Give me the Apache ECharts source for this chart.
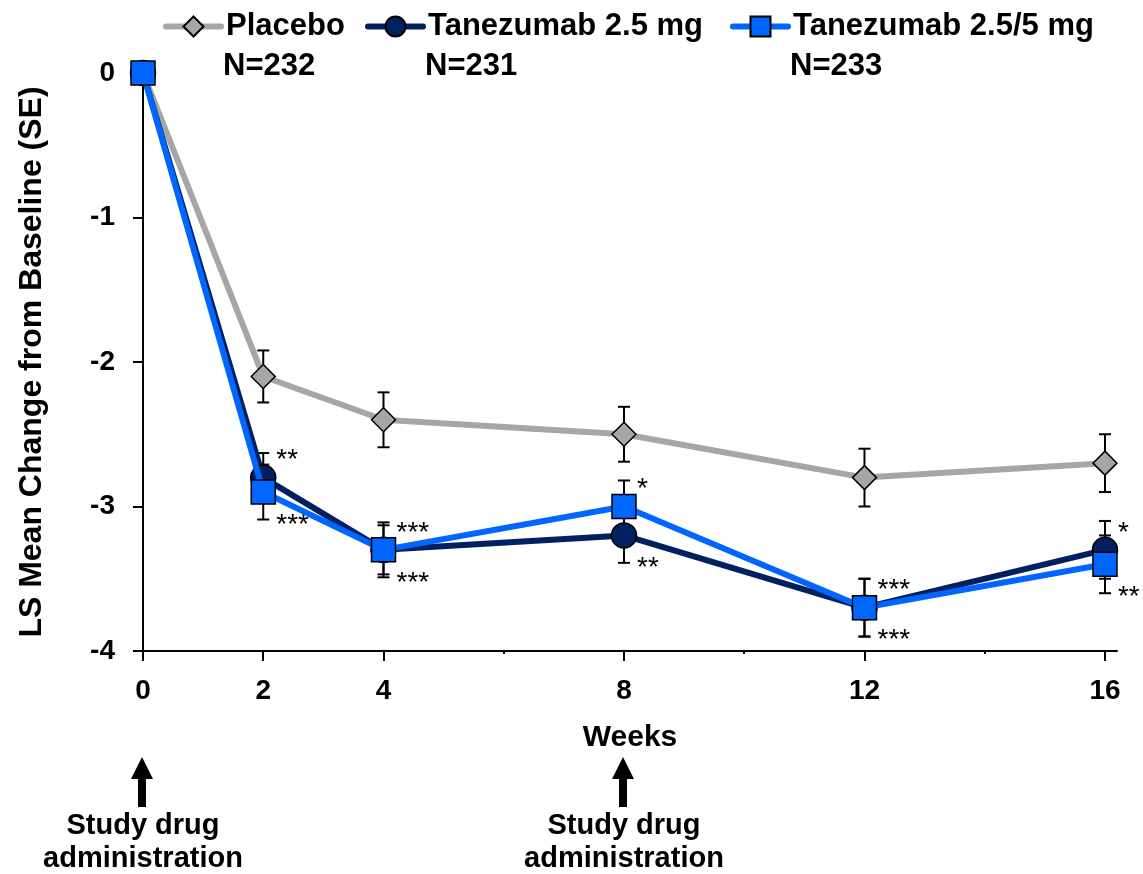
<!DOCTYPE html>
<html><head><meta charset="utf-8">
<script src="https://cdn.jsdelivr.net/npm/echarts@6/dist/echarts.min.js"></script>
<style>html,body{margin:0;padding:0;background:#fff}#c{width:1143px;height:874px}</style>
</head><body><div id="c"></div>
<script>
// ---------- data ----------
const weeks = [0, 2, 4, 8, 12, 16];
const tickWeeks = [0, 2, 4, 8, 12, 16];
const minorTickWeeks = [6, 10, 14];
const seriesNames = ['Placebo', 'Tanezumab 2.5 mg', 'Tanezumab 2.5/5 mg'];
const seriesN = ['N=232', 'N=231', 'N=233'];
const placebo   = [0, -2.1, -2.4, -2.5, -2.8, -2.7];
const placeboSE = [0, 0.18, 0.19, 0.19, 0.20, 0.20];
const tan25     = [0, -2.8, -3.3, -3.2, -3.7, -3.3];
const tan25SE   = [0, 0.17, 0.17, 0.19, 0.20, 0.20];
const tan255    = [0, -2.9, -3.3, -3.0, -3.7, -3.4];
const tan255SE  = [0, 0.19, 0.19, 0.18, 0.20, 0.20];
const sig25  = ['', '**', '***', '**', '***', '*'];
const sig255 = ['', '***', '***', '*', '***', '**'];
const doseWeeks = [0, 8];
const doseLabel = 'Study drug\nadministration';
const xName = 'Weeks';
const yName = 'LS Mean Change from Baseline (SE)';

// ---------- styling ----------
const FONT = '"Liberation Sans", Arial, Helvetica, sans-serif';
const colors = ['#A6A6A6', '#002060', '#0066FF'];
const symbols = ['diamond', 'circle', 'rect'];
const symbolSizes = [24, 25, 24];
const legendLefts = [163, 365, 730];
const LEG_W = 55, LEG_H = 25;
const GRID = { left: 143, right: 26, top: 73, bottom: 223 };

const above25 = tan25.map((v, i) => v >= tan255[i]);
const above255 = tan255.map((v, i) => v > tan25[i]);

function errRender(sigs, aboveFlags) {
  return function (params, api) {
    const i = params.dataIndex;
    const x = api.value(0), y = api.value(1), e = api.value(2);
    const c = api.coord([x, y]);
    const children = [];
    if (e > 0) {
      const t = api.coord([x, y + e]), b = api.coord([x, y - e]);
      const st = { stroke: '#000', lineWidth: 2 };
      children.push({ type: 'line', shape: { x1: c[0], y1: t[1], x2: c[0], y2: b[1] }, style: st });
      children.push({ type: 'line', shape: { x1: c[0] - 6, y1: t[1], x2: c[0] + 6, y2: t[1] }, style: st });
      children.push({ type: 'line', shape: { x1: c[0] - 6, y1: b[1], x2: c[0] + 6, y2: b[1] }, style: st });
    }
    const s = sigs ? sigs[i] : '';
    if (s) {
      const ab = aboveFlags[i];
      children.push({
        type: 'text', x: c[0] + 13, y: c[1] + (ab ? -17 : 33),
        style: { text: s, font: '28px ' + FONT, fill: '#000', align: 'left', verticalAlign: 'middle' }
      });
    }
    return { type: 'group', children };
  };
}

const lineSets = [placebo, tan25, tan255];
const seSets = [placeboSE, tan25SE, tan255SE];
const sigSets = [null, sig25, sig255];
const aboveSets = [null, above25, above255];

const series = [];
for (let k = 0; k < 3; k++) {
  series.push({
    type: 'custom', name: seriesNames[k] + ' SE', z: 1, clip: false,
    renderItem: errRender(sigSets[k], aboveSets[k]),
    data: weeks.map((w, i) => [w, lineSets[k][i], seSets[k][i]]),
    silent: true
  });
}
for (let k = 0; k < 3; k++) {
  series.push({
    type: 'line', name: seriesNames[k], z: 2 + k,
    data: weeks.map((w, i) => [w, lineSets[k][i]]),
    symbol: symbols[k], symbolSize: symbolSizes[k], showAllSymbol: true,
    lineStyle: { color: colors[k], width: 6 },
    itemStyle: { color: colors[k], borderColor: '#000', borderWidth: 1.5 },
    emphasis: { disabled: true }, animation: false, clip: false
  });
}

const legends = seriesNames.map((n, k) => ({
  data: [n], left: legendLefts[k], top: 11, orient: 'horizontal', padding: 0,
  itemWidth: LEG_W, itemHeight: LEG_H, selectedMode: false,
  lineStyle: { width: 6, cap: 'round' },
  textStyle: { fontFamily: FONT, fontWeight: 'bold', fontSize: 31, color: '#000' }
}));

const axisTxt = { fontFamily: FONT, fontWeight: 'bold', fontSize: 28, color: '#000' };

const option = {
  animation: false,
  backgroundColor: '#fff',
  legend: legends,
  grid: [Object.assign({ containLabel: false }, GRID), Object.assign({ containLabel: false }, GRID)],
  xAxis: [{
    type: 'value', min: 0, max: 16.2, gridIndex: 0,
    name: xName, nameLocation: 'middle', nameGap: 72,
    nameTextStyle: { fontFamily: FONT, fontWeight: 'bold', fontSize: 30, color: '#000' },
    axisLine: { onZero: false, lineStyle: { color: '#000', width: 2 } },
    axisTick: { show: true, length: 10, lineStyle: { color: '#000', width: 2 }, customValues: tickWeeks },
    axisLabel: Object.assign({ margin: 26, customValues: tickWeeks }, axisTxt),
    splitLine: { show: false }
  }, {
    type: 'value', min: 0, max: 16.2, gridIndex: 1, position: 'bottom',
    axisLine: { show: false, onZero: false },
    axisTick: { show: true, length: 3, lineStyle: { color: '#000', width: 2 }, customValues: minorTickWeeks },
    axisLabel: { show: false }, splitLine: { show: false }
  }],
  yAxis: [{
    type: 'value', min: -4, max: 0, interval: 1, gridIndex: 0,
    name: yName, nameLocation: 'middle', nameRotate: 90, nameGap: 95,
    nameTextStyle: { fontFamily: FONT, fontWeight: 'bold', fontSize: 32, color: '#000' },
    axisLine: { show: true, lineStyle: { color: '#000', width: 2 } },
    axisTick: { show: true, length: 10, lineStyle: { color: '#000', width: 2 } },
    axisLabel: Object.assign({ margin: 28 }, axisTxt),
    splitLine: { show: false }
  }, {
    type: 'value', min: -4, max: 0, gridIndex: 1, show: false
  }],
  series
};

const chart = echarts.init(document.getElementById('c'), null, { renderer: 'canvas' });
chart.setOption(option);

// N= lines under legend names, and dosing arrows
const graphics = seriesN.map((t, k) => ({
  type: 'text', x: legendLefts[k] + LEG_W + 5, y: 66,
  style: { text: t, font: 'bold 31px ' + FONT, fill: '#000', align: 'left', verticalAlign: 'middle' }
}));
doseWeeks.forEach(w => {
  const px = chart.convertToPixel({ xAxisIndex: 0 }, w) - 1;
  graphics.push({ type: 'polygon', shape: { points: [[px - 11, 779], [px + 11, 779], [px, 757]] }, style: { fill: '#000' } });
  graphics.push({ type: 'rect', shape: { x: px - 4, y: 776, width: 8, height: 31 }, style: { fill: '#000' } });
  graphics.push({
    type: 'text', x: px + 1, y: 809,
    style: { text: doseLabel, font: 'bold 29px ' + FONT, fill: '#000', align: 'center', verticalAlign: 'top', lineHeight: 33 }
  });
});
chart.setOption({ graphic: graphics });
</script></body></html>
